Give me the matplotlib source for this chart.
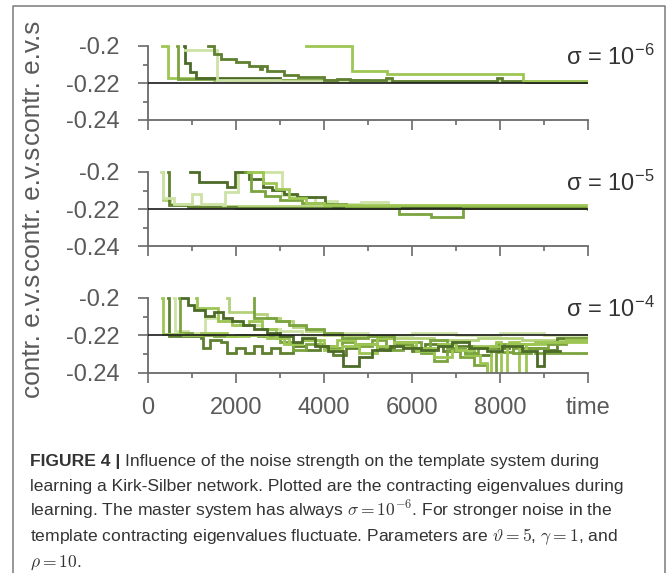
import matplotlib
matplotlib.use('Agg')
import matplotlib.pyplot as plt
from matplotlib.lines import Line2D

# ---------------- data ----------------
x_major = [0, 2000, 4000, 6000, 8000, 10000]
x_minor = [1000, 3000, 5000, 7000, 9000]
x_labels = ['0', '2000', '4000', '6000', '8000', 'time']
y_major = [-0.24, -0.22, -0.2]
y_minor = [-0.23, -0.21]
y_labels = ['-0.24', '-0.22', '-0.2']
master_value = -0.22
sigma_labels = ['6', '5', '4']

# panel 1 : sigma = 1e-6
p1_a_t = [320, 460, 1500, 3000, 10000]
p1_a_v = [-0.2, -0.2175, -0.2185, -0.219, -0.2193]
p1_b_t = [660, 680, 2000, 5000, 10000]
p1_b_v = [-0.2, -0.218, -0.2185, -0.219, -0.2193]
p1_c_t = [820, 830, 950, 1100, 3000, 10000]
p1_c_v = [-0.2, -0.209, -0.214, -0.2175, -0.219, -0.2192]
p1_d_t = [850, 1570, 3000, 10000]
p1_d_v = [-0.202, -0.2185, -0.219, -0.2192]
p1_e_t = [1370, 1500, 1650, 2000, 2300, 2550, 2600, 2700, 3100, 3400, 4000, 4300,
          4600, 5400, 5550, 6000, 7930, 8050, 8600, 10000]
p1_e_v = [-0.2, -0.2045, -0.207, -0.2085, -0.211, -0.2125, -0.211, -0.2135, -0.2155,
          -0.217, -0.2185, -0.218, -0.2185, -0.2172, -0.2187, -0.219, -0.2175, -0.2188,
          -0.2192, -0.2192]
p1_f_t = [3600, 4630, 5430, 8530, 10000]
p1_f_v = [-0.2, -0.2135, -0.215, -0.2188, -0.2192]

# panel 2 : sigma = 1e-5
p2_a_t = [320, 350, 500, 1000, 10000]
p2_a_v = [-0.2, -0.215, -0.2175, -0.2185, -0.2195]
p2_b_t = [450, 480, 900, 2000, 10000]
p2_b_v = [-0.2, -0.218, -0.219, -0.2195, -0.2198]
p2_c_t = [950, 1150, 1800, 1970, 2300, 2620, 2820, 3100, 3380, 4020, 4200, 10000]
p2_c_v = [-0.2, -0.2052, -0.208, -0.2, -0.204, -0.208, -0.2097, -0.212, -0.2135,
          -0.2175, -0.2188, -0.2195]
p2_d_t = [2200, 2350, 2650, 3000, 3500, 4000, 4500, 5700, 6430, 7160, 10000]
p2_d_v = [-0.2, -0.21, -0.213, -0.215, -0.2165, -0.2175, -0.219, -0.2225, -0.2245,
          -0.2195, -0.2198]
p2_e_t = [300, 330, 600, 1000, 1200, 1700, 1750, 2050, 3050, 3400, 3800, 4100, 4300,
          4850, 5450, 6000, 10000]
p2_e_v = [-0.2, -0.214, -0.2175, -0.212, -0.2175, -0.218, -0.211, -0.2, -0.2125,
          -0.2135, -0.2165, -0.2155, -0.2175, -0.216, -0.219, -0.2195, -0.2195]
p2_f_t = [2280, 2620, 2900, 3200, 3600, 4000, 10000]
p2_f_v = [-0.2, -0.206, -0.209, -0.214, -0.2165, -0.218, -0.2195]

# panel 3 : sigma = 1e-4
p3_a_t = [770, 900, 1050, 1300, 1500, 1700, 1900, 2150, 2400, 2700, 3000, 3300, 3500,
          3800, 4100, 4430, 4800, 5100, 5500, 5800, 6200, 6600, 6900, 7300, 7700, 8050,
          8500, 8840, 9000, 9360]
p3_a_v = [-0.2, -0.2035, -0.2065, -0.2095, -0.2075, -0.2105, -0.2125, -0.2145, -0.2165,
          -0.2185, -0.2205, -0.2235, -0.2215, -0.2255, -0.2285, -0.2365, -0.2315,
          -0.2275, -0.2255, -0.2265, -0.2275, -0.2255, -0.2235, -0.2265, -0.2285,
          -0.2255, -0.2285, -0.2365, -0.2285, -0.2285]
p3_b_t = [450, 470, 1200, 1250, 1400, 1650, 1800, 2000, 2200, 2400, 2600, 2800, 3000,
          3300, 3600, 3900, 4200, 4500, 4800, 5200, 5600, 6000, 6300, 6700, 7000, 7400,
          7800, 8200, 8600, 9000, 9300, 10000]
p3_b_v = [-0.2, -0.2205, -0.2215, -0.2265, -0.2225, -0.2235, -0.2295, -0.2265, -0.2295,
          -0.2255, -0.2295, -0.2265, -0.2295, -0.2255, -0.2275, -0.2255, -0.2305,
          -0.2265, -0.2245, -0.2265, -0.2235, -0.2285, -0.2245, -0.2285, -0.2255,
          -0.2305, -0.2265, -0.2245, -0.2265, -0.2275, -0.2215, -0.2215]
p3_c_t = [700, 720, 1000, 1500, 2000, 2500, 3000, 3300, 3600, 4000, 4400, 4700, 5100,
          5400, 5800, 6200, 6500, 6800, 7100, 7400, 7700, 7900, 8300, 8800, 10000]
p3_c_v = [-0.2, -0.2185, -0.2195, -0.2205, -0.2195, -0.2205, -0.2235, -0.2275, -0.2245,
          -0.2265, -0.2235, -0.2255, -0.2225, -0.2275, -0.2235, -0.2295, -0.2335,
          -0.2285, -0.2315, -0.2355, -0.245, -0.229, -0.2265, -0.2295, -0.2295]
p3_d_t = [320, 340, 800, 1200, 1800, 2300, 2700, 3100, 3500, 3900, 4300, 4700, 5200,
          5600, 6100, 6500, 6900, 7200, 7550, 7700, 7800, 8200, 8430, 8600, 9200, 10000]
p3_d_v = [-0.2, -0.219, -0.2195, -0.2185, -0.2205, -0.2195, -0.2215, -0.2245, -0.2225,
          -0.2255, -0.2225, -0.2245, -0.2215, -0.2255, -0.2285, -0.2315, -0.2265,
          -0.2305, -0.2345, -0.245, -0.2255, -0.2235, -0.245, -0.2245, -0.2235, -0.2235]
p3_e_t = [600, 620, 900, 1300, 1600, 2100, 2600, 3000, 3500, 4000, 5000, 6000, 7000,
          8000, 9000, 10000]
p3_e_v = [-0.2, -0.2175, -0.2185, -0.2105, -0.2125, -0.2145, -0.2165, -0.2175, -0.2195,
          -0.2185, -0.2195, -0.2185, -0.2195, -0.2185, -0.2195, -0.2195]
p3_f_t = [1800, 1850, 2400, 2700, 3000, 3300, 3600, 4000, 4500, 5500, 6500, 7500, 8500,
          10000]
p3_f_v = [-0.2, -0.2075, -0.2085, -0.2105, -0.2125, -0.2155, -0.2175, -0.2195, -0.2205,
          -0.2215, -0.2225, -0.2215, -0.2225, -0.2225]
p3_g_t = [2400, 2420, 2900, 3200, 3600, 4000, 4400, 5000, 5600, 6000, 6400, 6800, 7200,
          7500, 7900, 8300, 8700, 9100, 9500, 10000]
p3_g_v = [-0.2, -0.2105, -0.2125, -0.2145, -0.2165, -0.2185, -0.2215, -0.2205, -0.2245,
          -0.2265, -0.2225, -0.2265, -0.2295, -0.2265, -0.2245, -0.2295, -0.2265,
          -0.2245, -0.2215, -0.2215]
p3_h_t = [1100, 1120, 1600, 1900, 2300, 2600, 2900, 3200, 3500, 4000, 4400, 4800, 5200,
          5600, 6100, 6600, 7000, 7400, 7900, 8020, 8150, 8800, 9500, 10000]
p3_h_v = [-0.2, -0.2055, -0.2125, -0.2145, -0.2125, -0.2165, -0.2215, -0.2245, -0.2225,
          -0.2275, -0.2255, -0.2295, -0.2255, -0.2235, -0.2265, -0.2245, -0.2275,
          -0.2255, -0.2235, -0.245, -0.2245, -0.2235, -0.2225, -0.2225]

# ---------------- style ----------------
C_DARK = '#4c6b28'
C_DARK2 = '#5f8030'
C_MID = '#7ba33f'
C_BRIGHT = '#9dc654'
C_LIGHT = '#b3d27a'
C_PALE = '#cde2a6'

panel_series = [
    [(p1_a_t, p1_a_v, C_BRIGHT), (p1_b_t, p1_b_v, C_MID), (p1_c_t, p1_c_v, C_DARK),
     (p1_d_t, p1_d_v, C_PALE), (p1_e_t, p1_e_v, C_DARK2), (p1_f_t, p1_f_v, C_BRIGHT)],
    [(p2_a_t, p2_a_v, C_LIGHT), (p2_b_t, p2_b_v, C_DARK2), (p2_e_t, p2_e_v, C_PALE),
     (p2_c_t, p2_c_v, C_DARK), (p2_d_t, p2_d_v, C_MID), (p2_f_t, p2_f_v, C_BRIGHT)],
    [(p3_e_t, p3_e_v, C_PALE), (p3_f_t, p3_f_v, C_LIGHT), (p3_b_t, p3_b_v, C_DARK2),
     (p3_c_t, p3_c_v, C_MID), (p3_d_t, p3_d_v, C_BRIGHT), (p3_g_t, p3_g_v, C_MID),
     (p3_h_t, p3_h_v, C_BRIGHT), (p3_a_t, p3_a_v, C_DARK)],
]

W, H, DPI = 672, 573, 100
FONT = ['Liberation Sans', 'DejaVu Sans']
plt.rcParams['font.family'] = FONT
plt.rcParams['mathtext.fontset'] = 'cm'

fig = plt.figure(figsize=(W / DPI, H / DPI), dpi=DPI)
fig.patch.set_facecolor('white')

AX_L, AX_R = 148, 588
panel_px = [(46, 120), (172, 246), (298, 373)]   # pixel rows of -0.2 and -0.24
YTOP = -0.1995
GRAY = '#5a5a5a'
SPINE = '#6a6a6a'

for i, ((ytop, ybot), series) in enumerate(zip(panel_px, panel_series)):
    h = ybot - ytop
    top_px = ytop - (YTOP + 0.2) / 0.04 * h
    ax = fig.add_axes([AX_L / W, 1 - ybot / H, (AX_R - AX_L) / W, (ybot - top_px) / H])
    ax.set_facecolor('none')
    for t, v, c in series:
        ax.step(t, v, where='post', color=c, lw=2.0, solid_joinstyle='miter')
    ax.axhline(master_value, color='#1a1a1a', lw=1.2, zorder=5)
    ax.set_xlim(0, 10000)
    ax.set_ylim(-0.24, YTOP)
    for s in ('top', 'right'):
        ax.spines[s].set_visible(False)
    for s in ('left', 'bottom'):
        ax.spines[s].set_color(SPINE)
        ax.spines[s].set_linewidth(1.3)
    ax.spines['left'].set_bounds(-0.24, -0.2)
    ax.set_yticks(y_major)
    ax.set_yticklabels(y_labels)
    ax.set_yticks(y_minor, minor=True)
    ax.set_xticks(x_major)
    ax.set_xticks(x_minor, minor=True)
    if i == 2:
        ax.set_xticklabels(x_labels)
    else:
        ax.set_xticklabels([''] * len(x_major))
    ax.tick_params(which='major', direction='out', length=7.5, width=1.2, color=SPINE,
                   labelcolor=GRAY, labelsize=17)
    ax.tick_params(which='minor', direction='out', length=3.6, width=1.2, color=SPINE)
    ax.tick_params(axis='y', which='major', pad=13)
    ax.tick_params(axis='x', which='major', pad=10)
    # sigma label
    fig.text(566 / W, 1 - (ytop + 19) / H, 'σ = 10$^{\\mathregular{-' + sigma_labels[i] + '}}$',
             fontsize=17, color='#333333', ha='left', va='baseline')
    # y label
    fig.text(33.5 / W, 1 - ((ytop + ybot) / 2) / H, 'contr. e.v.s', rotation=90,
             ha='center', va='center', fontsize=18.8, color=GRAY)

# border frame
fig.add_artist(Line2D([13 / W, 13 / W, 665 / W, 665 / W], [0, 1 - 6 / H, 1 - 6 / H, 0],
                      transform=fig.transFigure, color='#7a7a7a', lw=1.1))

# caption
CAP_COL = '#333333'
CAP_SIZE = 12.6
cap_lines = [
    'Influence of the noise strength on the template system during',
    'learning a Kirk-Silber network. Plotted are the contracting eigenvalues during',
    r'learning. The master system has always $\sigma = 10^{-6}$. For stronger noise in the',
    r'template contracting eigenvalues fluctuate. Parameters are $\vartheta = 5$, $\gamma = 1$, and',
    r'$\rho = 10$.',
]
baselines = [466, 491, 516, 541, 567]
x0 = 30
bold = fig.text(x0 / W, 1 - baselines[0] / H, 'FIGURE 4 | ', fontsize=CAP_SIZE,
                fontweight='bold', color=CAP_COL, ha='left', va='baseline')
fig.canvas.draw()
bb = bold.get_window_extent(renderer=fig.canvas.get_renderer())
fig.text(bb.x1 / W, 1 - baselines[0] / H, cap_lines[0], fontsize=CAP_SIZE, color=CAP_COL,
         ha='left', va='baseline')
for line, b in zip(cap_lines[1:], baselines[1:]):
    fig.text(x0 / W, 1 - b / H, line, fontsize=CAP_SIZE, color=CAP_COL, ha='left',
             va='baseline')

fig.savefig('out.png', dpi=DPI, facecolor='white')
